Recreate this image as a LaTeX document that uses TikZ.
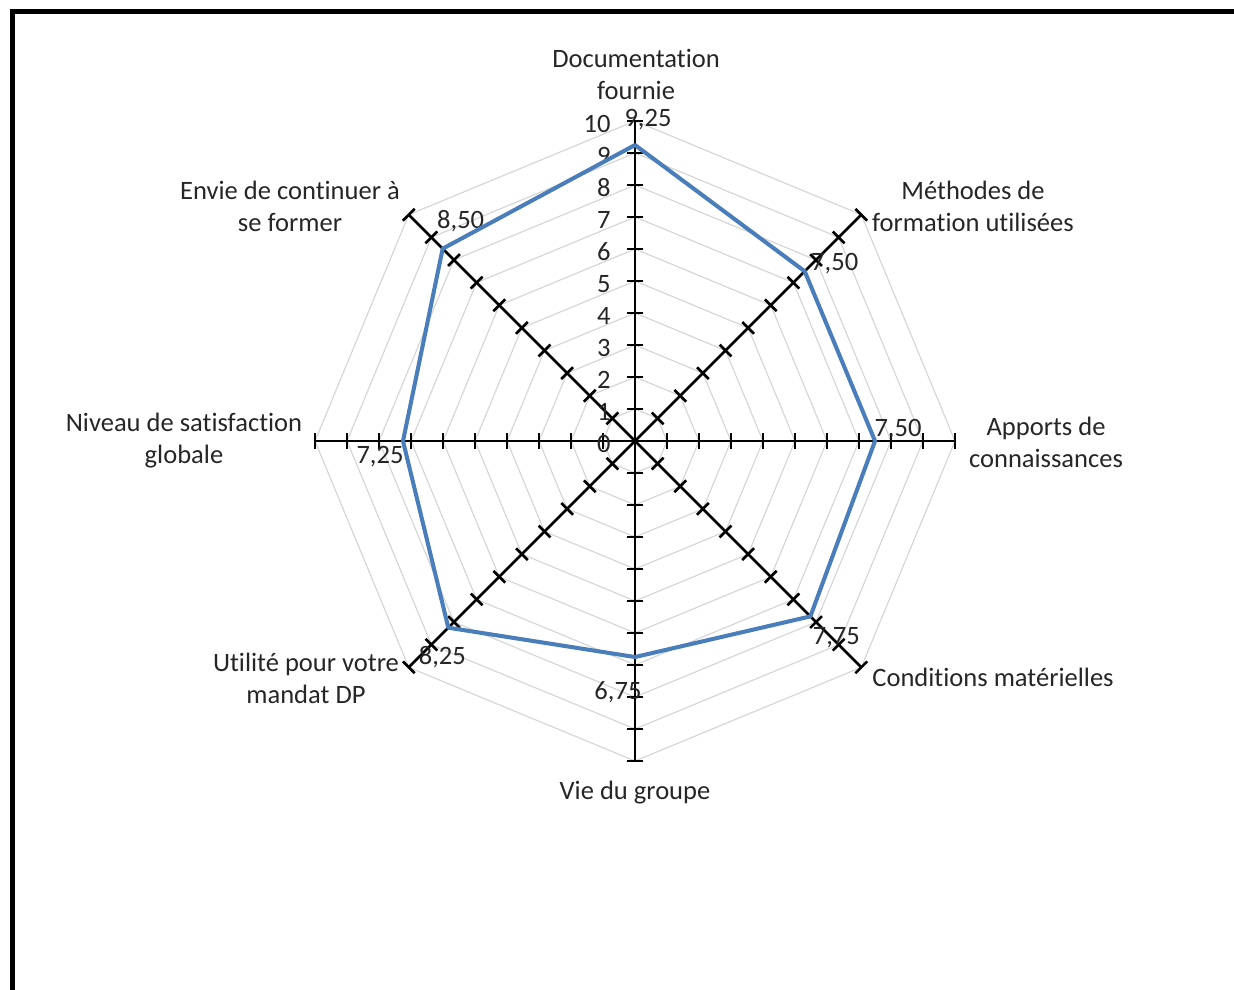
\documentclass[tikz,border=0pt]{standalone}
\usepackage{fontspec}
\setmainfont[Ligatures=NoCommon]{Carlito}
\definecolor{kblue}{HTML}{4A7EBB}
\definecolor{kgrid}{HTML}{D4D4D4}
\definecolor{ktext}{HTML}{262626}
\tikzset{
  kgridline/.style={kgrid,line width=0.5pt},
  kaxis/.style={black,line width=1.15pt},
  kdata/.style={kblue,line width=1.8pt,line join=round},
  klabel/.style={text=ktext,align=center,inner sep=0pt,font=\fontsize{11.8}{14.2}\selectfont},
}
\begin{document}
\begin{tikzpicture}
\pgfmathsetmacro{\kstep}{0.5}
\pgfmathsetmacro{\ktick}{0.13}
\useasboundingbox (-9.922,-8.5625) rectangle (9.359,6.891);
\draw[line width=2.2pt](-9.727,-8.7)--(-9.727,6.711)--(9.5,6.711);
\coordinate (o) at (0,0);
\foreach \kr in {1,...,10}{\draw[kgridline](90:{\kr*\kstep})\foreach \ka in {45,0,-45,-90,-135,180,135}{--(\ka:{\kr*\kstep})}--cycle;}
\foreach \ka/\kn in {90/1,45/2,0/3,-45/4,-90/5,-135/6,180/7,135/8}{
  \coordinate (e\kn) at (\ka:{10*\kstep});
  \draw[kaxis](o)--(e\kn);
  \foreach \ki in {1,...,10}{\draw[kaxis,rotate=\ka](\ki*\kstep,-\ktick)--(\ki*\kstep,\ktick);}
}
\foreach \ki in {0,...,10}{\node[klabel,anchor=east] (t\ki) at (-0.375,\ki*\kstep-0.04) {\ki};}
\foreach \ka/\kv/\kn/\kdx/\kdy/\klb in {90/9.25/1/0.203/0.391/{9,25},45/7.5/2/0.469/0.125/{7,50},0/7.5/3/0.359/0.172/{7,50},-45/7.75/4/0.406/-0.328/{7,75},-90/6.75/5/-0.266/-0.547/{6,75},-135/8.25/6/-0.094/-0.453/{8,25},180/7.25/7/-0.359/-0.25/{7,25},135/8.5/8/0.281/0.438/{8,50}}{
  \coordinate (p\kn) at (\ka:{\kv*\kstep});
  \node[klabel] (v\kn) at ([shift={(\kdx,\kdy)}]p\kn) {\klb};
}
\draw[kdata](p1)--(p2)--(p3)--(p4)--(p5)--(p6)--(p7)--(p8)--cycle;
\foreach \kn/\kx/\ky/\klb in {1/0.016/5.734/{Documentation\\fournie},2/5.281/3.672/{Méthodes de\\formation utilisées},3/6.422/-0.016/{Apports de\\connaissances},4/5.594/-3.688/{Conditions matérielles},5/0/-5.5/{Vie du groupe},6/-5.141/-3.703/{Utilité pour votre\\mandat DP},7/-7.047/0/{Niveau de satisfaction\\globale},8/-5.391/3.672/{Envie de continuer à\\se former}}{
  \node[klabel] (c\kn) at (\kx,\ky) {\klb};
}
\end{tikzpicture}
\end{document}
